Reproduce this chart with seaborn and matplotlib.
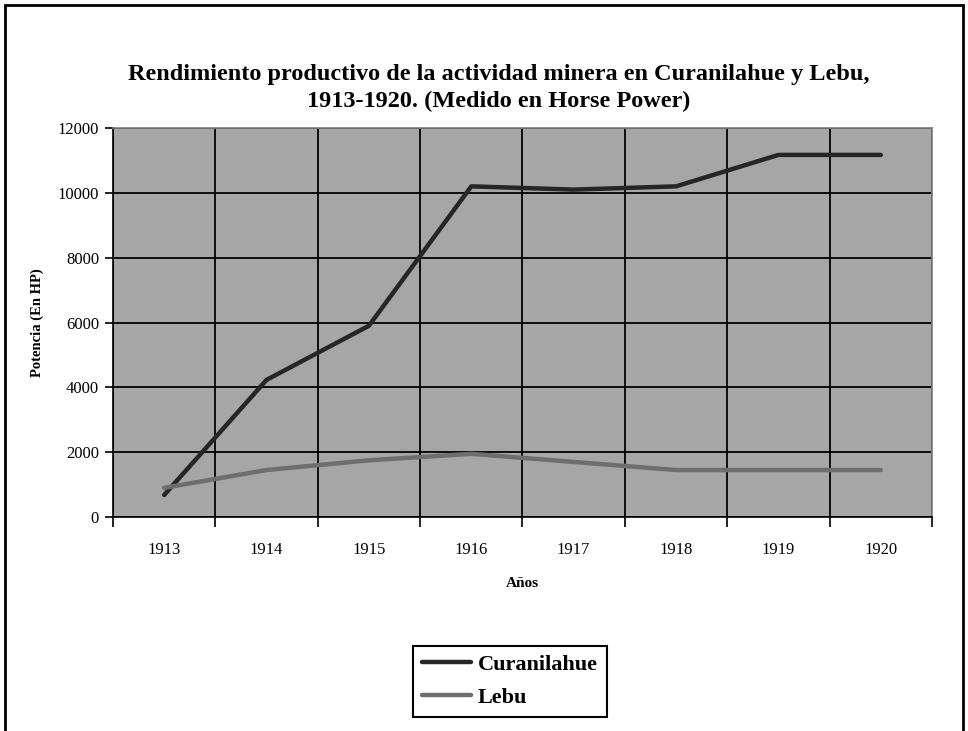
import numpy as np
import matplotlib
matplotlib.use("Agg")
import matplotlib.pyplot as plt
from matplotlib.patches import Rectangle
import seaborn as sns
import pandas as pd

years = ["1913", "1914", "1915", "1916", "1917", "1918", "1919", "1920"]
curanilahue = [680, 4230, 5900, 10200, 10100, 10200, 11170, 11170]
lebu = [900, 1450, 1750, 1950, 1700, 1450, 1450, 1450]

df = pd.DataFrame({
    "pos": list(range(len(years))) * 2,
    "hp": curanilahue + lebu,
    "serie": ["Curanilahue"] * len(years) + ["Lebu"] * len(years),
})

sns.set_theme(style="ticks")
plt.rcParams["font.family"] = ["Liberation Serif", "DejaVu Serif"]
plt.rcParams["text.color"] = "black"
plt.rcParams["axes.labelcolor"] = "black"
plt.rcParams["xtick.color"] = "black"
plt.rcParams["ytick.color"] = "black"

fig = plt.figure(figsize=(9.68, 7.31), dpi=100)
ax = fig.add_axes([0.1167, 0.2927, 0.8461, 0.5322])
ax.set_facecolor("#a6a6a6")

sns.lineplot(data=df, x="pos", y="hp", hue="serie",
             palette={"Curanilahue": "#262626", "Lebu": "#6e6e6e"},
             linewidth=3.2, ax=ax, legend=True)

ax.set_xlim(-0.5, len(years) - 0.5)
ax.set_ylim(0, 12000)
ax.set_yticks(np.arange(0, 12001, 2000))
ax.set_xticks(range(len(years)))
ax.set_xticklabels(years)
ax.set_xticks(np.arange(-0.5, len(years), 1), minor=True)
ax.tick_params(axis="x", which="major", length=0, pad=18, labelsize=12)
ax.tick_params(axis="x", which="minor", length=7, width=1.2, color="black")
ax.tick_params(axis="y", length=6, width=1.2, color="black", labelsize=12, pad=4)
ax.grid(False)
ax.grid(axis="y", which="major", color="black", linewidth=1.3)
ax.grid(axis="x", which="minor", color="black", linewidth=1.3)

for s in ["top", "right"]:
    ax.spines[s].set_color("#808080")
    ax.spines[s].set_linewidth(1.2)
for s in ["left", "bottom"]:
    ax.spines[s].set_color("black")
    ax.spines[s].set_linewidth(1.2)

ax.set_xlabel("Años", fontsize=11, fontweight="bold", labelpad=14)
ax.set_ylabel("Potencia (En HP)", fontsize=10.5, fontweight="bold", labelpad=10)

fig.suptitle("Rendimiento productivo de la actividad minera en Curanilahue y Lebu,\n"
             "1913-1920. (Medido en Horse Power)",
             x=0.515, y=0.912, fontsize=17.5, fontweight="bold", linespacing=1.35)

handles, labels = ax.get_legend_handles_labels()
ax.legend(handles, labels, loc="center", bbox_to_anchor=(0.527, 0.068),
          bbox_transform=fig.transFigure, frameon=True, fancybox=False,
          edgecolor="black", framealpha=1, prop={"weight": "bold", "size": 16},
          handlelength=2.2, handletextpad=0.3, borderpad=0.4, labelspacing=0.55)
ax.get_legend().get_frame().set_linewidth(1.5)

fig.patches.append(Rectangle((0.005, -0.01), 0.99, 1.003, transform=fig.transFigure,
                             fill=False, edgecolor="black", linewidth=2))

fig.savefig("out.png", dpi=100, facecolor="white")
